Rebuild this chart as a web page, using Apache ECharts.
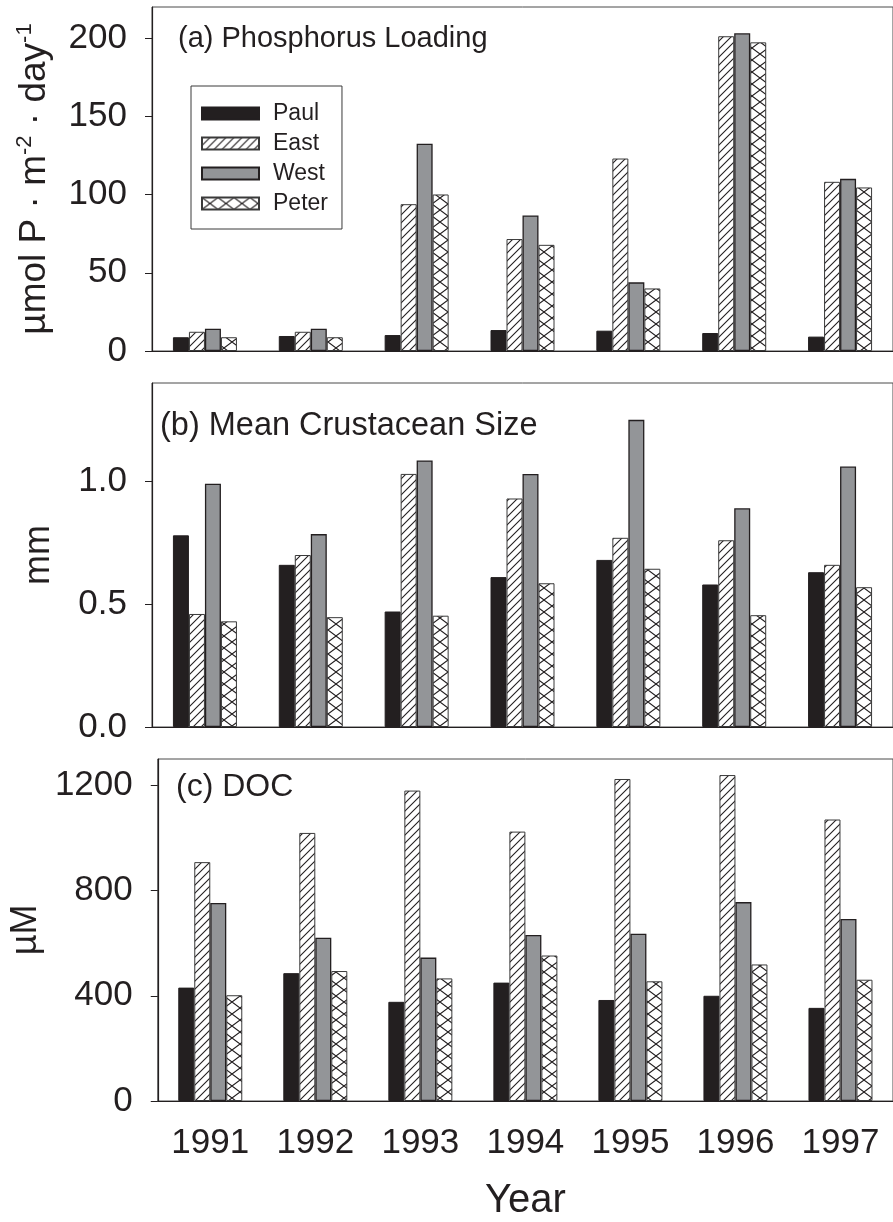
<!DOCTYPE html>
<html><head><meta charset="utf-8">
<script src="https://cdn.jsdelivr.net/npm/echarts@6/dist/echarts.min.js"></script>
<style>html,body{margin:0;padding:0;background:#fff}#c{width:893px;height:1222px}</style>
</head><body><div id="c"></div>
<script>
// ---- data ----
const years = ['1991', '1992', '1993', '1994', '1995', '1996', '1997'];
const lakes = ['Paul', 'East', 'West', 'Peter'];

const phosPaul  = [8.8, 9.6, 10.2, 13.4, 13.0, 11.5, 9.2];
const phosEast  = [12.3, 12.3, 93.9, 71.6, 123.1, 201.3, 108.2];
const phosWest  = [14.3, 14.3, 132.5, 86.7, 43.9, 203.2, 110.1];
const phosPeter = [8.8, 8.8, 100.1, 67.9, 40.0, 197.4, 104.6];

const sizePaul  = [0.78, 0.66, 0.47, 0.61, 0.68, 0.58, 0.63];
const sizeEast  = [0.46, 0.70, 1.03, 0.93, 0.77, 0.76, 0.66];
const sizeWest  = [0.99, 0.785, 1.085, 1.03, 1.25, 0.89, 1.06];
const sizePeter = [0.43, 0.447, 0.453, 0.585, 0.644, 0.455, 0.569];

const docPaul  = [431, 486, 377, 450, 384, 400, 354];
const docEast  = [908, 1019, 1180, 1024, 1224, 1239, 1070];
const docWest  = [753, 621, 545, 631, 636, 756, 692];
const docPeter = [402, 494, 466, 553, 455, 519, 461];

const panelTitles = ['(a) Phosphorus Loading', '(b) Mean Crustacean Size', '(c) DOC'];
const yMax = [220, 1.4, 1300];
const yTicks = [[0, 50, 100, 150, 200], [0, 0.5, 1.0], [0, 400, 800, 1200]];
const yTickLabels = [['0', '50', '100', '150', '200'], ['0.0', '0.5', '1.0'], ['0', '400', '800', '1200']];
const xAxisName = 'Year';

// ---- styling ----
const FONT = '"Liberation Sans", Arial, Helvetica, sans-serif';
const INK = '#231f20';
const GRID_LEFT = 152, GRID_W = 749, GRID_H = 344;
const GRID_TOPS = [7, 383, 759];

function makeHatch() {
  const c = document.createElement('canvas');
  c.width = 8; c.height = 8;
  const g = c.getContext('2d');
  g.fillStyle = '#fff'; g.fillRect(0, 0, 8, 8);
  g.strokeStyle = INK; g.lineWidth = 1.1;
  g.beginPath();
  g.moveTo(-1, 9); g.lineTo(9, -1);
  g.moveTo(-1, 1); g.lineTo(1, -1);
  g.moveTo(7, 9); g.lineTo(9, 7);
  g.stroke();
  return c;
}
function makeCross() {
  const w = 16, h = 12;
  const c = document.createElement('canvas');
  c.width = w; c.height = h;
  const g = c.getContext('2d');
  g.fillStyle = '#fff'; g.fillRect(0, 0, w, h);
  g.strokeStyle = INK; g.lineWidth = 1.1;
  g.beginPath();
  g.moveTo(0, 0); g.lineTo(w, h);
  g.moveTo(0, h); g.lineTo(w, 0);
  g.stroke();
  return c;
}
const hatchImg = makeHatch();
const crossImg = makeCross();

const lakeStyles = [
  { color: INK, borderColor: INK, borderWidth: 1 },
  { color: { image: hatchImg, repeat: 'repeat' }, borderColor: '#3a3a3a', borderWidth: 1 },
  { color: '#939598', borderColor: INK, borderWidth: 1.3 },
  { color: { image: crossImg, repeat: 'repeat' }, borderColor: '#3a3a3a', borderWidth: 1 }
];

const panelData = [
  [phosPaul, phosEast, phosWest, phosPeter],
  [sizePaul, sizeEast, sizeWest, sizePeter],
  [docPaul, docEast, docWest, docPeter]
];

const grids = [], xAxes = [], yAxes = [], series = [], titles = [];
const titleLayout = [
  { left: 178, top: 24, size: 29 },
  { left: 160, top: 410, size: 32.5 },
  { left: 176, top: 771, size: 32 }
];

for (let p = 0; p < 3; p++) {
  grids.push({ left: GRID_LEFT, top: GRID_TOPS[p], width: GRID_W, height: GRID_H,
    show: true, borderColor: '#4a4a4a', borderWidth: 1, backgroundColor: 'transparent' });
  xAxes.push({
    type: 'category', gridIndex: p, data: years,
    axisLine: { lineStyle: { color: INK, width: 1.2 } },
    axisTick: { alignWithLabel: true, length: 6, lineStyle: { color: INK, width: 1 } },
    axisLabel: { show: p === 2, fontSize: 35, fontFamily: FONT, color: INK, margin: 25 },
    name: p === 2 ? xAxisName : '', nameLocation: 'middle', nameGap: 80,
    nameTextStyle: { fontSize: 40, fontFamily: FONT, color: INK }
  });
  const labels = yTickLabels[p];
  const ticks = yTicks[p];
  let yName, yNameStyle;
  if (p === 0) {
    yName = '{m|\u00b5mol P \u00b7 m}{s|-2}{m| \u00b7 day}{s|-1}';
    yNameStyle = { fontFamily: FONT, color: INK, rich: {
      m: { fontSize: 37, fontFamily: FONT, color: INK, lineHeight: 42 },
      s: { fontSize: 22, fontFamily: FONT, color: INK, verticalAlign: 'top', lineHeight: 22 }
    } };
  } else {
    yName = p === 1 ? 'mm' : '\u00b5M';
    yNameStyle = { fontSize: 36, fontFamily: FONT, color: INK };
  }
  yAxes.push({
    type: 'value', gridIndex: p, min: 0, max: yMax[p],
    splitLine: { show: false },
    axisLine: { show: true, lineStyle: { color: INK, width: 1.2 } },
    axisTick: { show: true, length: 7, lineStyle: { color: INK }, customValues: ticks },
    axisLabel: { fontSize: 35, fontFamily: FONT, color: INK, margin: 25, customValues: ticks,
      formatter: function (v) { const i = ticks.indexOf(v); return i >= 0 ? labels[i] : ''; } },
    name: yName, nameLocation: 'middle', nameGap: p === 0 ? 96 : 95, nameTextStyle: yNameStyle
  });
  for (let s = 0; s < 4; s++) {
    series.push({
      type: 'bar', name: lakes[s], xAxisIndex: p, yAxisIndex: p,
      data: panelData[p][s], barWidth: 16, barGap: '0%',
      itemStyle: lakeStyles[s], emphasis: { disabled: true }
    });
  }
  titles.push({ text: panelTitles[p], left: titleLayout[p].left, top: titleLayout[p].top, padding: 0,
    textStyle: { fontSize: titleLayout[p].size, fontWeight: 'normal', fontFamily: FONT, color: INK } });
}

const chart = echarts.init(document.getElementById('c'), null, { renderer: 'canvas' });
chart.setOption({
  animation: false,
  backgroundColor: '#ffffff',
  title: titles,
  legend: {
    data: lakes, orient: 'vertical', left: 191, top: 86, icon: 'rect',
    itemWidth: 57, itemHeight: 12, itemGap: 7,
    padding: [16, 14, 14, 10], borderColor: '#3a3a3a', borderWidth: 1,
    textStyle: { fontSize: 23, fontFamily: FONT, color: INK, lineHeight: 22, padding: [0, 0, 0, 9] },
    selectedMode: false
  },
  grid: grids, xAxis: xAxes, yAxis: yAxes, series: series
});
</script></body></html>
